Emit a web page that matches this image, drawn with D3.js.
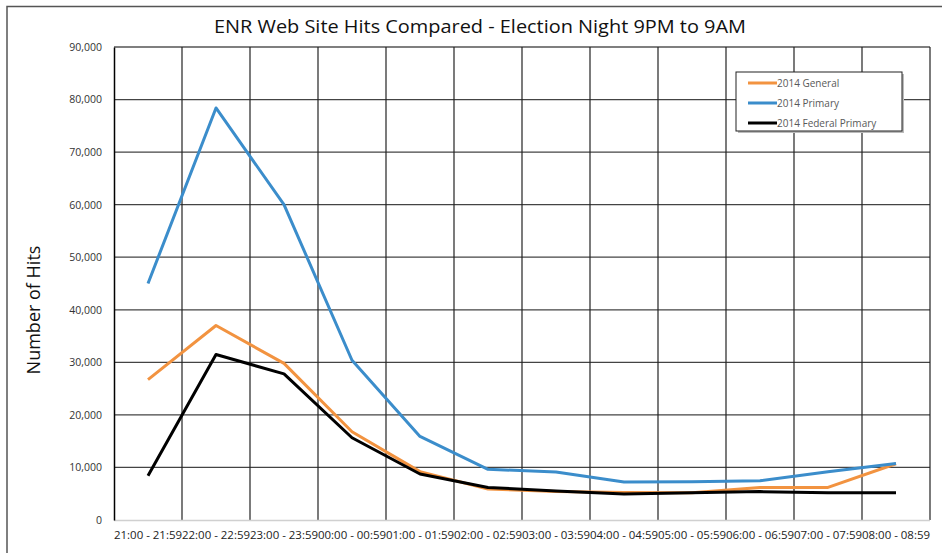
<!DOCTYPE html>
<html>
<head>
<meta charset="utf-8">
<script src="https://cdn.jsdelivr.net/npm/d3@7"></script>
<style>
  body { margin: 0; background: #fff; }
  svg { display: block; }
</style>
</head>
<body>
<div id="chart"></div>
<script>
// Hour buckets on the x axis
const hours = ["21:00 - 21:59", "22:00 - 22:59", "23:00 - 23:59", "00:00 - 00:59",
               "01:00 - 01:59", "02:00 - 02:59", "03:00 - 03:59", "04:00 - 04:59",
               "05:00 - 05:59", "06:00 - 06:59", "07:00 - 07:59", "08:00 - 08:59"];

// Hits per hour
const general        = [26700, 37000, 29800, 16800, 9200, 5900, 5400, 5250, 5200, 6200, 6200, 10700];
const primary        = [45000, 78400, 60000, 30400, 15900, 9650, 9150, 7250, 7300, 7450, 9200, 10750];
const federalPrimary = [8400, 31500, 27800, 15650, 8750, 6200, 5500, 4950, 5200, 5400, 5200, 5200];

const yTicks = [0, 10000, 20000, 30000, 40000, 50000, 60000, 70000, 80000, 90000];

const series = [
  {name: "2014 General", values: general, color: "#f29340"},
  {name: "2014 Primary", values: primary, color: "#3b8dcb"},
  {name: "2014 Federal Primary", values: federalPrimary, color: "#000000"}
];

const W = 942, H = 553;
const margin = {top: 47, right: 12, bottom: 33, left: 114};
const width = W - margin.left - margin.right,
      height = H - margin.top - margin.bottom;

const svg = d3.select("#chart").append("svg")
    .attr("width", W)
    .attr("height", H);

// outer chart frame
svg.append("path")
    .attr("d", "M7," + H + " L7,6.5 L" + W + ",6.5")
    .attr("fill", "none")
    .attr("stroke", "#555")
    .attr("stroke-width", 1.5);

svg.append("text")
    .attr("x", 480)
    .attr("y", 33)
    .attr("text-anchor", "middle")
    .attr("font-family", "Open Sans, sans-serif")
    .attr("font-size", 18)
    .attr("textLength", 532)
    .attr("lengthAdjust", "spacingAndGlyphs")
    .attr("fill", "#111")
    .text("ENR Web Site Hits Compared - Election Night 9PM to 9AM");

const g = svg.append("g")
    .attr("transform", "translate(" + margin.left + "," + margin.top + ")");

const x = d3.scaleBand().domain(hours).range([0, width]);
const y = d3.scaleLinear().domain([0, 90000]).range([height, 0]);

// horizontal grid
g.append("g")
  .selectAll("line")
  .data(yTicks.slice(1))
  .enter().append("line")
    .attr("x1", 0).attr("x2", width)
    .attr("y1", d => y(d)).attr("y2", d => y(d))
    .attr("stroke", d => d === 90000 ? "#000" : "#444")
    .attr("stroke-width", 1.2);

// vertical grid at band edges
g.append("g")
  .selectAll("line")
  .data(hours.slice(1).concat(["end"]))
  .enter().append("line")
    .attr("x1", (d, i) => x.step() * (i + 1))
    .attr("x2", (d, i) => x.step() * (i + 1))
    .attr("y1", 0).attr("y2", height)
    .attr("stroke", "#222")
    .attr("stroke-width", 1.2);

// bottom axis line
g.append("line")
    .attr("x1", 0).attr("x2", width)
    .attr("y1", height + 0.5).attr("y2", height + 0.5)
    .attr("stroke", "#d0d0d0")
    .attr("stroke-width", 1.5);

// left axis
const yAxis = d3.axisLeft(y)
    .tickValues(yTicks)
    .tickSize(0)
    .tickPadding(12)
    .tickFormat(d3.format(","));

g.append("g")
    .attr("class", "y axis")
    .call(yAxis)
    .call(s => s.select(".domain").attr("stroke", "#000").attr("stroke-width", 1.5))
    .call(s => s.selectAll("text")
        .attr("font-family", "Open Sans, sans-serif")
        .attr("font-size", 10.5)
        .attr("fill", "#333"));

// bottom labels
const xAxis = d3.axisBottom(x).tickSize(0).tickPadding(12);
g.append("g")
    .attr("class", "x axis")
    .attr("transform", "translate(0," + height + ")")
    .call(xAxis)
    .call(s => s.select(".domain").remove())
    .call(s => s.selectAll("text")
        .attr("font-family", "Open Sans, sans-serif")
        .attr("font-size", 10.5)
        .attr("textLength", 68)
        .attr("lengthAdjust", "spacingAndGlyphs")
        .attr("fill", "#222"));

svg.append("text")
    .attr("transform", "translate(40,310) rotate(-90)")
    .attr("text-anchor", "middle")
    .attr("font-family", "Open Sans, sans-serif")
    .attr("font-size", 18)
    .attr("fill", "#111")
    .text("Number of Hits");

const line = d3.line()
    .x((d, i) => x(hours[i]) + x.bandwidth() / 2)
    .y(d => y(d));

g.selectAll(".line")
  .data(series)
  .enter().append("path")
    .attr("class", "line")
    .attr("d", d => line(d.values))
    .attr("fill", "none")
    .attr("stroke", d => d.color)
    .attr("stroke-width", 3)
    .attr("stroke-linejoin", "round");

// legend
const legend = svg.append("g").attr("transform", "translate(736,72)");
legend.append("rect")
    .attr("x", 2).attr("y", 2)
    .attr("width", 166).attr("height", 59)
    .attr("fill", "#bbb");
legend.append("rect")
    .attr("width", 166).attr("height", 59)
    .attr("fill", "#fff")
    .attr("stroke", "#222")
    .attr("stroke-width", 1);

const item = legend.selectAll(".item")
  .data(series)
  .enter().append("g")
    .attr("class", "item")
    .attr("transform", (d, i) => "translate(0," + (11 + i * 20) + ")");
item.append("line")
    .attr("x1", 12).attr("x2", 41)
    .attr("stroke", d => d.color)
    .attr("stroke-width", 3);
item.append("text")
    .attr("x", 41)
    .attr("dy", "0.35em")
    .attr("font-family", "Open Sans, sans-serif")
    .attr("font-size", 10)
    .attr("fill", "#595959")
    .text(d => d.name);
</script>
</body>
</html>
